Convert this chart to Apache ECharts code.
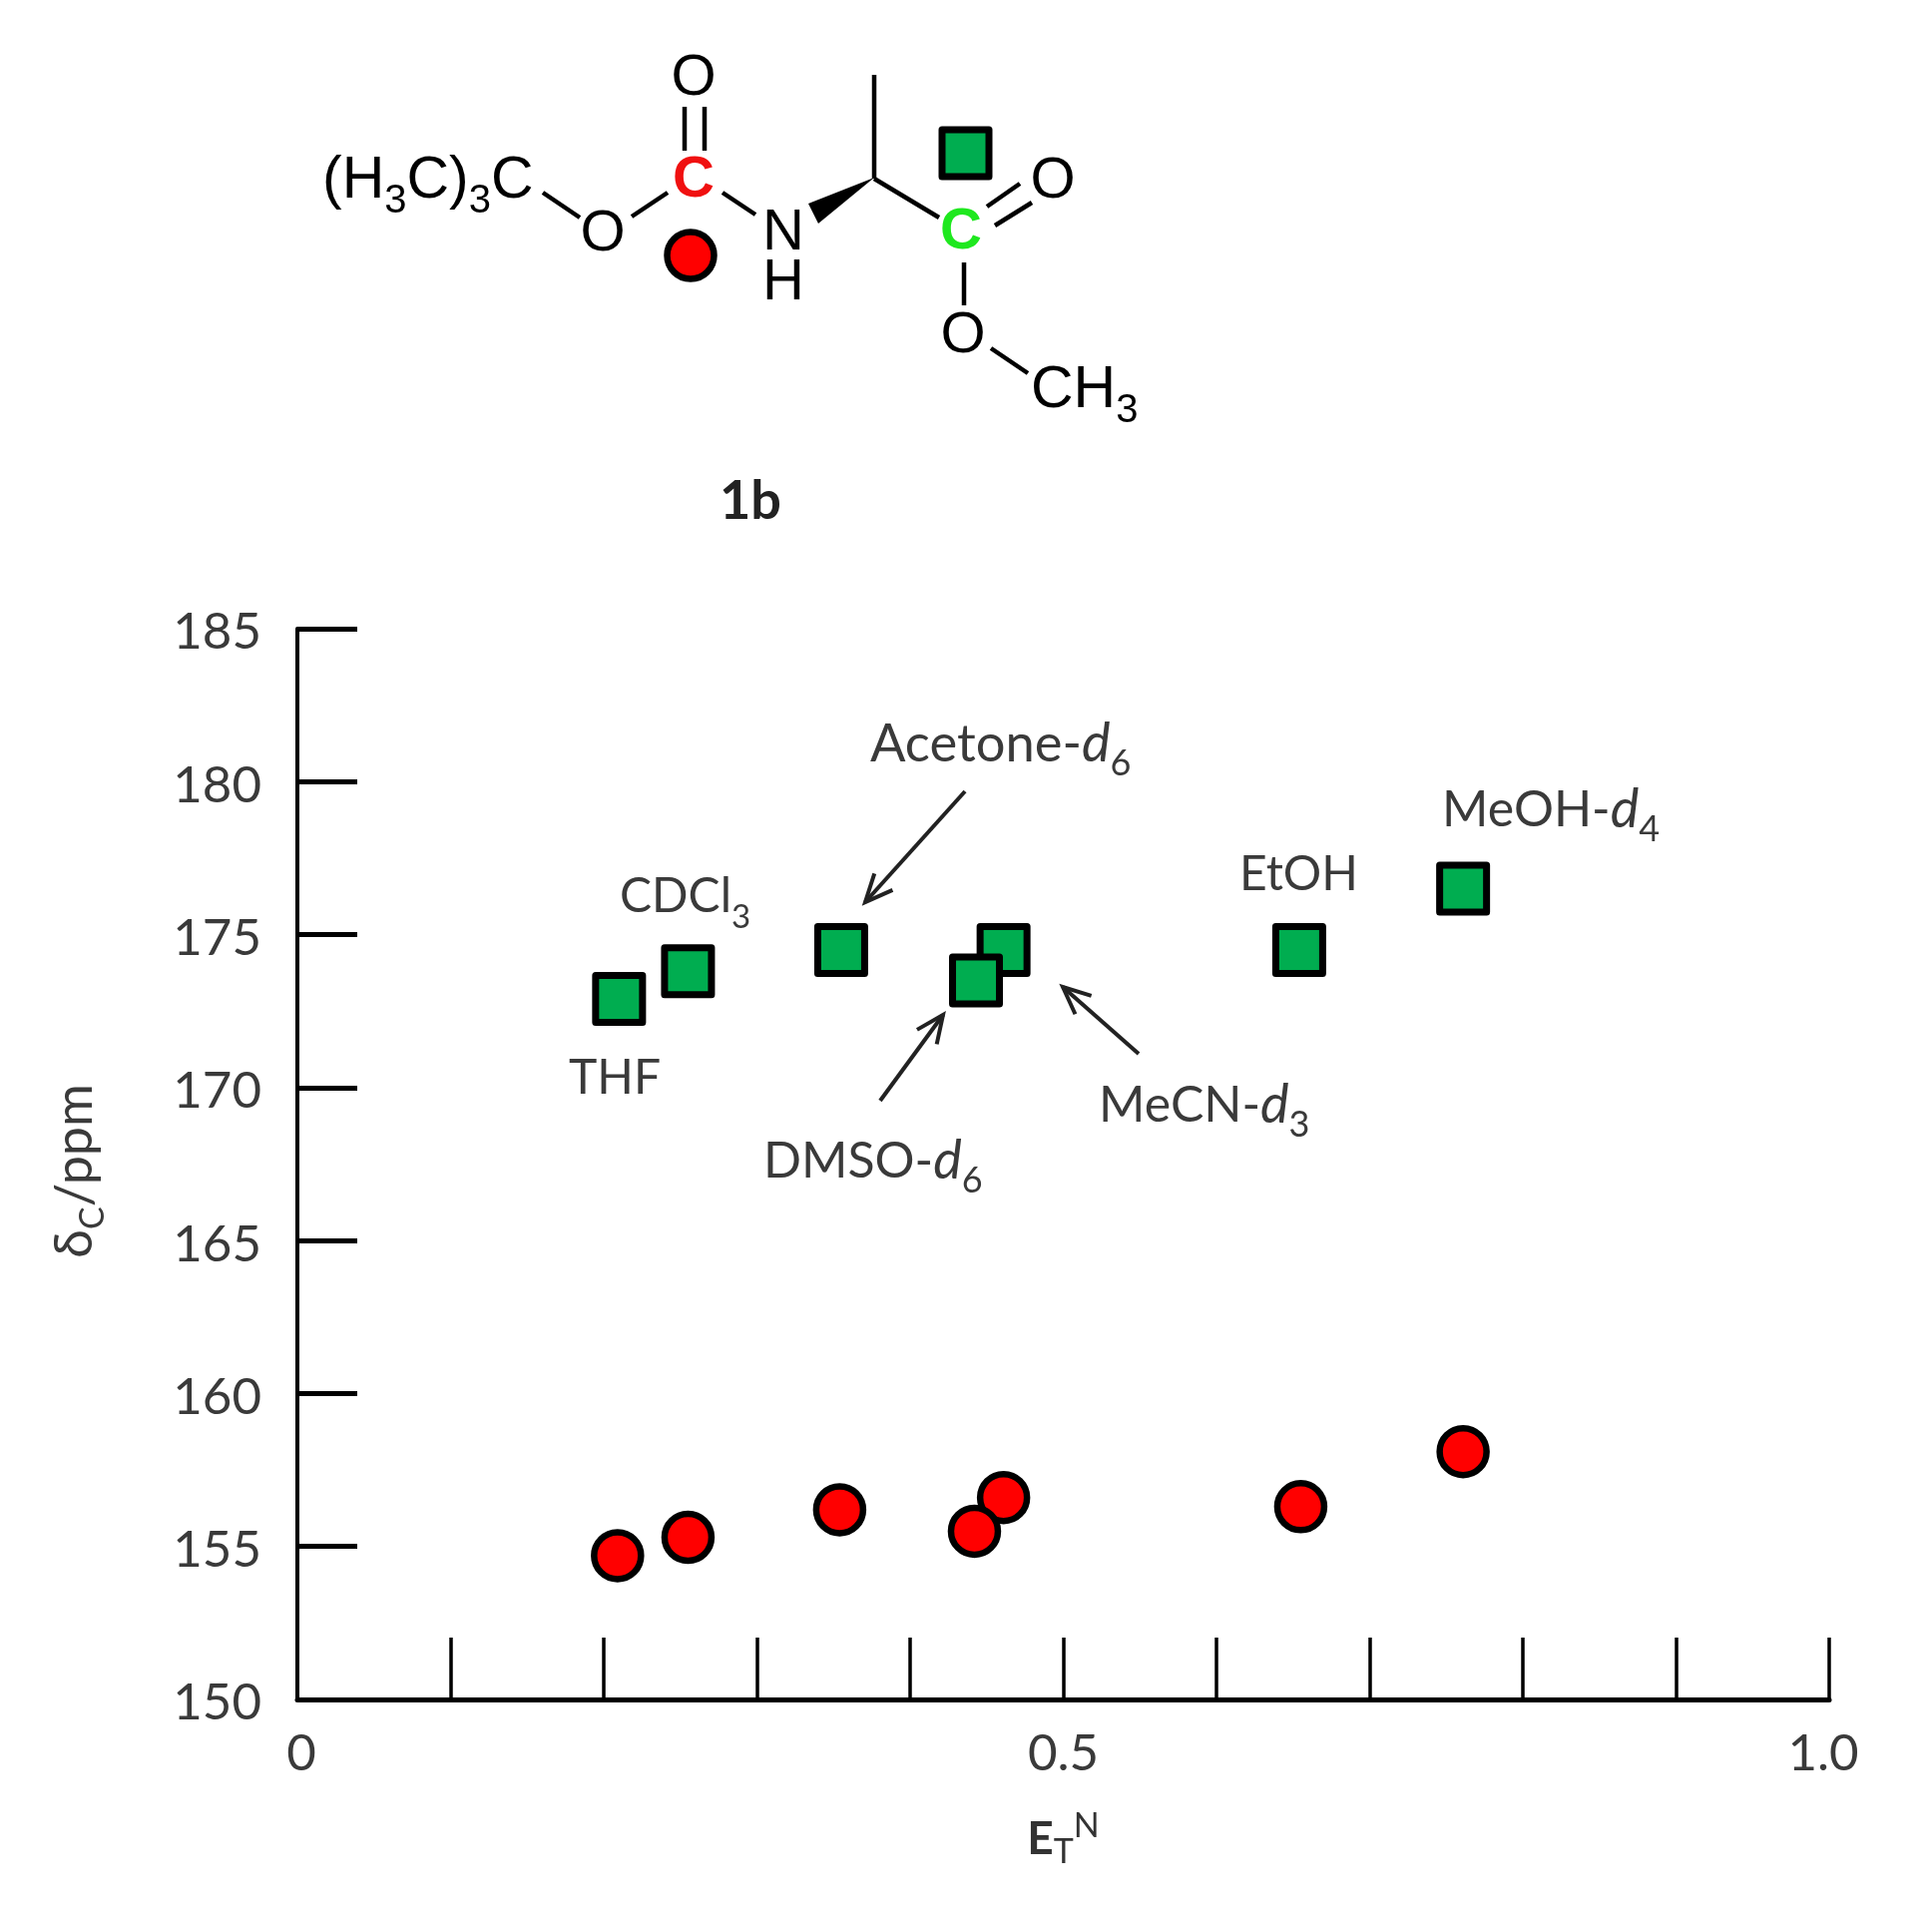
<!DOCTYPE html>
<html><head><meta charset="utf-8">
<style>html,body{margin:0;padding:0;background:#fff}#c{width:1936px;height:1920px}</style>
<script src="https://cdn.jsdelivr.net/npm/echarts@6/dist/echarts.min.js"></script>
</head><body><div id="c"></div>
<script>
const solvents = ['THF','CDCl3','Acetone-d6','MeCN-d3','DMSO-d6','EtOH','MeOH-d4'];
const etnCarbonyl = [0.210,0.255,0.355,0.461,0.443,0.654,0.761];
const deltaCarbonyl = [172.9,173.8,174.5,174.5,173.5,174.5,176.5];
const etnCarbamate = [0.209,0.255,0.354,0.461,0.442,0.655,0.761];
const deltaCarbamate = [154.7,155.3,156.2,156.6,155.5,156.3,158.1];
const xLabelValues = [0,0.5,1];
const xLabelText = {0:'{z|0}',0.5:'{m|0.5}',1:'{o|1.0}'};

const LATO = 'Lato, "Noto Sans", sans-serif';
const ARIAL = '"Liberation Sans", Arial, sans-serif';
const TXT = '#3a3a3a';
const tok = (size,extra) => Object.assign({fontFamily:LATO,fontSize:size,fill:TXT,color:TXT,lineHeight:74,verticalAlign:'middle'},extra||{});
const richLab = {
  b:tok(48), c:tok(50), e:tok(52.5),
  i:tok(54,{fontStyle:'italic'}),
  s:tok(36,{verticalAlign:'bottom'}),
  t:tok(33,{verticalAlign:'bottom'})
};
const g = [];
const line = (x1,y1,x2,y2,w,c) => g.push({type:'line',silent:true,shape:{x1,y1,x2,y2},style:{stroke:c||'#000',lineWidth:w}});
const label = (t,x,y) => g.push({type:'text',silent:true,x,y,style:{text:t,rich:richLab,verticalAlign:'middle',align:'left',fontFamily:LATO,fontSize:48,fill:TXT}});
const arrow = (x1,y1,x2,y2) => {
  line(x1,y1,x2,y2,4,'#222');
  const a=Math.atan2(y2-y1,x2-x1), h=30, d=0.42;
  g.push({type:'polyline',silent:true,shape:{points:[[x2-h*Math.cos(a-d),y2-h*Math.sin(a-d)],[x2,y2],[x2-h*Math.cos(a+d),y2-h*Math.sin(a+d)]]},style:{stroke:'#222',fill:'none',lineWidth:4}});
};
const atom = (t,x,y,c,w) => g.push({type:'text',silent:true,x,y,style:{text:t,align:'center',verticalAlign:'middle',fontFamily:ARIAL,fontSize:58,fontWeight:w||'normal',fill:c||'#000'}});
const richMol = {
  a:{fontFamily:ARIAL,fontSize:59,fill:'#000',color:'#000',lineHeight:80,verticalAlign:'middle'},
  s:{fontFamily:ARIAL,fontSize:40,fill:'#000',color:'#000',lineHeight:80,verticalAlign:'bottom'}
};
const mol = (t,x,y) => g.push({type:'text',silent:true,x,y,style:{text:t,rich:richMol,align:'left',verticalAlign:'middle',fontFamily:ARIAL,fontSize:59,fill:'#000'}});

/* structure of compound 1b */
line(686,107,686,151,4.5); line(706,107,706,151,4.5);
line(544,193,581,218,4.5); line(633,217,669,193,4.5); line(724,193,757,215,4.5);
line(876,75,876,179,4.5); line(876,179,941,218,4.5);
line(989,207,1022,184,4.5); line(997,226,1034,203,4.5);
line(966,263,966,306,4.5); line(993,349,1030,374,4.5);
g.push({type:'polygon',silent:true,shape:{points:[[876,178],[810,204],[820,224]]},style:{fill:'#000'}});
atom('O',695,79); atom('O',604,235); atom('N',785,234); atom('H',785,284);
atom('O',1055,182); atom('O',965,337);
atom('C',695,181,'#f01010','bold'); atom('C',963,233,'#1fe81f','bold');
mol('{a|(H}{s|3}{a|C)}{s|3}{a|C}',323,182);
mol('{a|CH}{s|3}',1033,392);
g.push({type:'rect',silent:true,shape:{x:944,y:130,width:47,height:47},style:{fill:'#00AD50',stroke:'#000',lineWidth:7,lineJoin:'round'}});
g.push({type:'circle',silent:true,shape:{cx:692,cy:256,r:23.5},style:{fill:'#FF0000',stroke:'#000',lineWidth:6.5}});
g.push({type:'text',silent:true,x:752,y:503,style:{text:'1b',align:'center',verticalAlign:'middle',fontFamily:LATO,fontSize:54,fontWeight:'bold',fill:'#222'}});

/* solvent annotations */
label('{e|Acetone-}{i|d}{s|6}',872,746);
label('{c|MeOH-}{i|d}{s|4}',1445,812);
label('{b|EtOH}',1242,877);
label('{b|CDCl}{t|3}',621,899);
label('{b|THF}',570,1081);
label('{c|MeCN-}{i|d}{s|3}',1101,1108);
label('{c|DMSO-}{i|d}{s|6}',765,1164);
arrow(967,793,867,904);
arrow(882,1103,945,1017);
arrow(1141,1056,1065,989);

const pts = (xs,ys) => xs.map((x,i)=>({name:solvents[i],value:[x,ys[i]]}));
const num = extra => Object.assign({fontFamily:LATO,fontSize:51,color:TXT},extra||{});
const chart = echarts.init(document.getElementById('c'),null,{renderer:'canvas'});
chart.setOption({
  animation:false,
  backgroundColor:'#fff',
  grid:{left:298,right:103,top:630,bottom:217,containLabel:false},
  xAxis:{
    type:'value',min:0,max:1,interval:0.1,
    name:'{e|E}{t|T}{n|N}',nameLocation:'middle',nameGap:110,
    nameTextStyle:{rich:{
      e:{fontFamily:LATO,fontSize:46,fontWeight:'bold',color:'#333',lineHeight:60,verticalAlign:'middle'},
      t:{fontFamily:LATO,fontSize:34,color:'#333',lineHeight:60,verticalAlign:'bottom'},
      n:{fontFamily:LATO,fontSize:34,color:'#333',lineHeight:60,verticalAlign:'top'}
    }},
    axisLine:{show:true,onZero:false,lineStyle:{color:'#000',width:5}},
    axisTick:{show:true,inside:true,length:62,lineStyle:{color:'#000',width:3.5}},
    axisLabel:{customValues:xLabelValues,formatter:v=>xLabelText[v],margin:29,
      rich:{z:num({padding:[0,0,0,8]}),m:num(),o:num({padding:[0,12,0,0]})}},
    splitLine:{show:false}
  },
  yAxis:{
    type:'value',min:150,max:185,interval:5,
    name:'{d|δ}{s|C}{d|/ppm}',nameLocation:'middle',nameRotate:90,nameGap:188,
    nameTextStyle:{padding:[0,14,0,0],rich:{
      d:{fontFamily:LATO,fontSize:52,color:TXT,lineHeight:70,verticalAlign:'middle'},
      s:{fontFamily:LATO,fontSize:34,color:TXT,lineHeight:70,verticalAlign:'bottom'}
    }},
    axisLine:{show:true,onZero:false,lineStyle:{color:'#000',width:4}},
    axisTick:{show:true,inside:true,length:60,lineStyle:{color:'#000',width:5}},
    axisLabel:{margin:36,formatter:'{v|{value}}',rich:{v:num({padding:[8,0,0,0]})}},
    splitLine:{show:false}
  },
  series:[
    {name:'C=O ester',type:'scatter',symbol:'rect',symbolSize:47,clip:false,
     itemStyle:{color:'#00AD50',borderColor:'#000',borderWidth:7,borderJoin:'round',opacity:1},data:pts(etnCarbonyl,deltaCarbonyl)},
    {name:'C=O carbamate',type:'scatter',symbol:'circle',symbolSize:47,clip:false,
     itemStyle:{color:'#FF0000',borderColor:'#000',borderWidth:6.5,opacity:1},data:pts(etnCarbamate,deltaCarbamate)}
  ],
  graphic:{elements:g}
});
</script></body></html>
